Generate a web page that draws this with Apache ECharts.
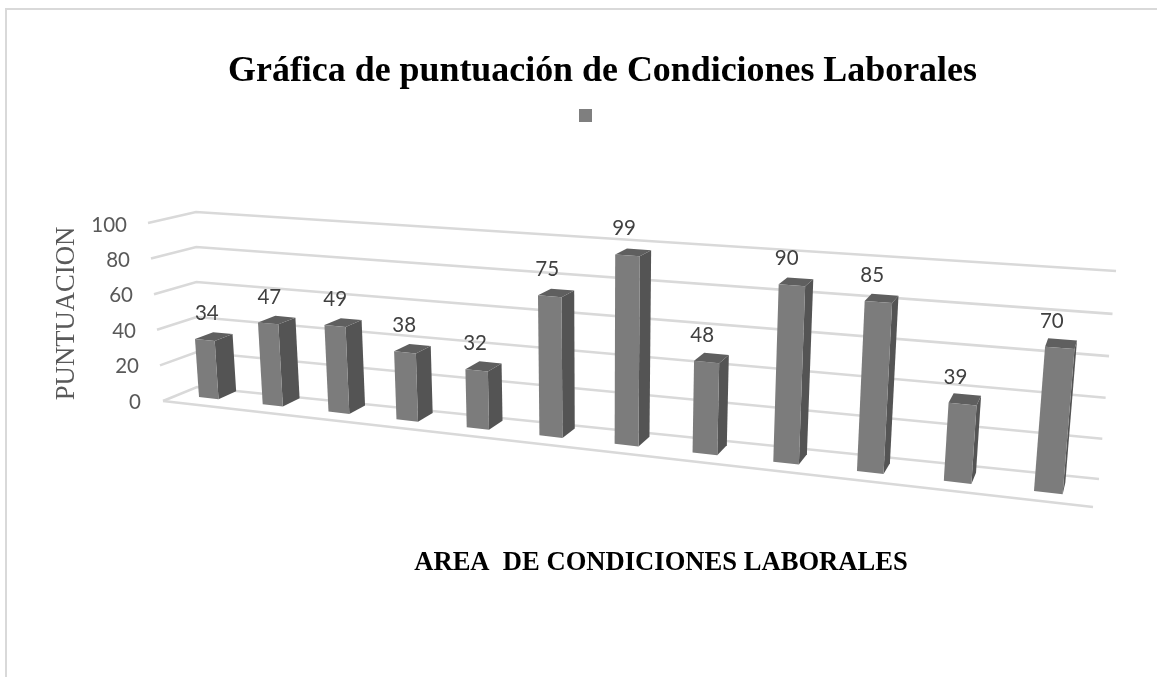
<!DOCTYPE html>
<html><head><meta charset="utf-8">
<style>html,body{margin:0;padding:0;background:#fff}#c{width:1157px;height:677px}</style>
<script src="https://cdn.jsdelivr.net/npm/echarts@6/dist/echarts.min.js"></script>
</head><body><div id="c"></div>
<script>
var categories = ['1','2','3','4','5','6','7','8','9','10','11','12'];
var puntuacion = [34,47,49,38,32,75,99,48,90,85,39,70];
var yTicks = [0,20,40,60,80,100];
var tickLabelInset = {0:0,20:2,40:5,60:8,80:11,100:14};

// Perspective camera of the picture: s = bar position, V = value, z = depth
function project(s, V, z){
  var w = 1 - 0.01582*s - 0.000292*V + 0.0185*z;
  return [(199 + 59.55*s - 0.1746*V + 21.9*z)/w, (397 + 0.78*s - 1.805*V - 0.6*z)/w];
}
var BAR_W = 0.31;
// Wall outline of the 3D box: [value 0 point, value 100 point]
var wallFront = [[163,401],[148,223]];
var wallBackL = [[197,387],[196,212]];
var wallBackR = [[1099,479],[1116,271]];
var floorFrontR = [1093,507];
function lerp(seg,t){return [seg[0][0]+(seg[1][0]-seg[0][0])*t, seg[0][1]+(seg[1][1]-seg[0][1])*t];}

function valueOf(api, params, cat, val){
  var p = api.coord([cat,val]), cs = params.coordSys;
  return {s:(p[0]-cs.x)/cs.width*categories.length-0.5, V:(cs.y+cs.height-p[1])/cs.height*100};
}
var lineStyle = {stroke:'#d9d9d9',lineWidth:2.6,fill:null};

function renderGrid(params, api){
  var t = valueOf(api, params, 0, api.value(1)).V/100;
  var tR = t/(1+0.04*(1-t));
  var pts = [lerp(wallFront,t), lerp(wallBackL,t), lerp(wallBackR,tR)];
  var kids = [{type:'polyline',shape:{points:pts},style:lineStyle}];
  if(t===0){ kids.push({type:'line',shape:{x1:wallFront[0][0],y1:wallFront[0][1],x2:floorFrontR[0],y2:floorFrontR[1]},style:lineStyle}); }
  return {type:'group',children:kids};
}
function renderBar(params, api){
  var idx = api.value(0), val = api.value(1);
  var top = valueOf(api, params, idx, val), s = top.s, V = top.V;
  var a = s, b = s+BAR_W;
  var fbl=project(a,0,0), fbr=project(b,0,0), ftl=project(a,V,0), ftr=project(b,V,0);
  var btl=project(a,V,1), btr=project(b,V,1), bbr=project(b,0,1);
  var lx=(ftl[0]+ftr[0])/2 + 2 - 10*s/11, ly=(ftl[1]+ftr[1])/2 - 26.5;
  return {type:'group',children:[
    {type:'polygon',shape:{points:[fbr,ftr,btr,bbr]},style:{fill:'#545454'}},
    {type:'polygon',shape:{points:[ftl,ftr,btr,btl]},style:{fill:'#5f5f5f'}},
    {type:'polygon',shape:{points:[fbl,fbr,ftr,ftl]},style:{fill:'#7c7c7c'}},
    {type:'text',style:{text:String(val),x:lx,y:ly,align:'center',verticalAlign:'middle',font:'20.5px Lato',fill:'#404040'}}
  ]};
}
var chart = echarts.init(document.getElementById('c'));
chart.setOption({
  animation:false,
  backgroundColor:'#fff',
  title:{text:'Gráfica de puntuación de Condiciones Laborales',left:597.5,top:49,textAlign:'center',
    textStyle:{fontFamily:'Liberation Serif',fontWeight:'bold',fontSize:35.9,color:'#000'}},
  legend:{data:[' '],left:574,top:104,itemWidth:13,itemHeight:13,icon:'rect',itemGap:0,formatter:function(){return '';}},
  graphic:[{type:'polyline',shape:{points:[[6,677],[6,9],[1157,9]]},style:{stroke:'#d9d9d9',lineWidth:2,fill:null},silent:true}],
  grid:{left:143,top:225,width:1014,height:177},
  xAxis:{type:'category',data:categories,axisLine:{show:false},axisTick:{show:false},axisLabel:{show:false},
    name:'AREA  DE CONDICIONES LABORALES',nameLocation:'middle',nameGap:148,
    nameTextStyle:{fontFamily:'Liberation Serif',fontWeight:'bold',fontSize:26.6,color:'#000',padding:[0,0,0,22]}},
  yAxis:{type:'value',min:0,max:100,interval:20,axisLine:{show:false},axisTick:{show:false},splitLine:{show:false},
    axisLabel:{margin:2,formatter:function(v){return '{t'+v+'|'+v+'}';},
      rich:(function(){var r={};yTicks.forEach(function(t){r['t'+t]={fontFamily:'Lato',fontSize:20.5,color:'#595959',padding:[0,tickLabelInset[t],0,0]};});return r;})()},
    name:'PUNTUACION',nameLocation:'middle',nameGap:60,nameRotate:90,
    nameTextStyle:{fontFamily:'Liberation Serif',fontSize:26.7,color:'#595959'}},
  series:[
    {type:'custom',name:'rejilla',data:yTicks.map(function(t){return [0,t];}),renderItem:renderGrid,clip:false,silent:true,z:1},
    {type:'custom',name:' ',itemStyle:{color:'#7f7f7f'},data:puntuacion.map(function(v,i){return [i,v];}),renderItem:renderBar,clip:false,z:2}
  ]
});
</script></body></html>
